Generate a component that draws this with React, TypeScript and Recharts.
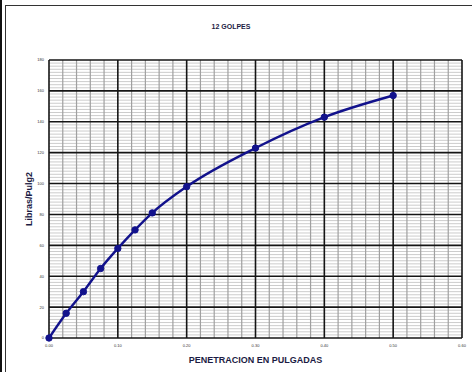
import React from 'react';
import { LineChart, Line, XAxis, YAxis, ReferenceLine, Label } from 'recharts';

// Penetration (in) vs. load (lb/in2), 12 blows
const penetration = [0, 0.025, 0.05, 0.075, 0.1, 0.125, 0.15, 0.2, 0.3, 0.4, 0.5];
const load = [0, 16, 30, 45, 58, 70, 81, 98, 123, 143, 157];

const xTicks = [0, 0.1, 0.2, 0.3, 0.4, 0.5, 0.6];
const yTicks = [0, 20, 40, 60, 80, 100, 120, 140, 160, 180];
const xMinor = [0.02, 0.04, 0.06, 0.08, 0.12, 0.14, 0.16, 0.18, 0.22, 0.24, 0.26, 0.28,
  0.32, 0.34, 0.36, 0.38, 0.42, 0.44, 0.46, 0.48, 0.52, 0.54, 0.56, 0.58];
const yMinor = [2, 4, 6, 8, 10, 12, 14, 16, 18, 22, 24, 26, 28, 30, 32, 34, 36, 38, 42, 44, 46, 48,
  50, 52, 54, 56, 58, 62, 64, 66, 68, 70, 72, 74, 76, 78, 82, 84, 86, 88, 90, 92, 94, 96, 98,
  102, 104, 106, 108, 110, 112, 114, 116, 118, 122, 124, 126, 128, 130, 132, 134, 136, 138,
  142, 144, 146, 148, 150, 152, 154, 156, 158, 162, 164, 166, 168, 170, 172, 174, 176, 178];

const data = penetration.map((p, i) => ({ p, v: load[i] }));

const NAVY = '#12128c';
const font = '"Liberation Sans", Arial, sans-serif';

const App: React.FC = () => {
  return (
    <div style={{ position: 'absolute', left: 0, top: 0, width: 472, height: 372, background: '#fff', overflow: 'hidden', fontFamily: font }}>
      <div style={{ position: 'absolute', left: 0, top: 0, width: 2, height: 372, background: '#111' }} />
      <div style={{ position: 'absolute', left: 5, top: 5, width: 480, height: 380, border: '1.5px solid #333', borderRight: 'none', borderBottom: 'none' }} />
      <div style={{ position: 'absolute', left: 0, top: 23, width: 462, textAlign: 'center', fontSize: 7, fontWeight: 700, color: '#1c1c44' }}>
        12 GOLPES
      </div>
      <div style={{ position: 'absolute', left: 0, top: 0 }}>
        <LineChart width={472} height={372} data={data} margin={{ top: 60, right: 10, bottom: 20, left: 19 }}>
          <XAxis
            dataKey="p"
            type="number"
            domain={[0, 0.6]}
            ticks={xTicks}
            tickFormatter={(t: number) => t.toFixed(2)}
            height={14}
            axisLine={false}
            tickLine={false}
            tickSize={0}
            tickMargin={6}
            tick={{ fontSize: 4, fill: '#333', fontFamily: font }}
          >
            <Label
              value="PENETRACION EN PULGADAS"
              position="insideBottom"
              offset={-11}
              style={{ fontSize: 9, fontWeight: 700, fill: '#1c1c44', fontFamily: font }}
            />
          </XAxis>
          <YAxis
            type="number"
            domain={[0, 180]}
            ticks={yTicks}
            width={30}
            axisLine={false}
            tickLine={false}
            tickSize={0}
            tickMargin={5}
            tick={{ fontSize: 4, fill: '#333', fontFamily: font }}
          >
            <Label
              value="Libras/Pulg2"
              angle={-90}
              position="insideLeft"
              offset={10}
              style={{ fontSize: 9, fontWeight: 700, fill: '#1c1c44', fontFamily: font, textAnchor: 'middle' }}
            />
          </YAxis>
          {/* light horizontal rules every 2 units, grey verticals every 0.02 in */}
          {yMinor.map(v => (
            <ReferenceLine key={`hy${v}`} y={v} stroke="#cccccc" strokeWidth={1} />
          ))}
          {xMinor.map(v => (
            <ReferenceLine key={`vx${v}`} x={v} stroke="#a0a0a0" strokeWidth={1.2} />
          ))}
          {yTicks.map(v => (
            <ReferenceLine key={`hY${v}`} y={v} stroke="#151515" strokeWidth={1.6} />
          ))}
          {xTicks.map(v => (
            <ReferenceLine key={`vX${v}`} x={v} stroke="#151515" strokeWidth={1.6} />
          ))}
          <Line
            type="monotone"
            dataKey="v"
            stroke={NAVY}
            strokeWidth={2.4}
            dot={{ r: 3.2, fill: NAVY, stroke: NAVY, strokeWidth: 1 }}
            isAnimationActive={false}
          />
        </LineChart>
      </div>
    </div>
  );
};

export default App;
